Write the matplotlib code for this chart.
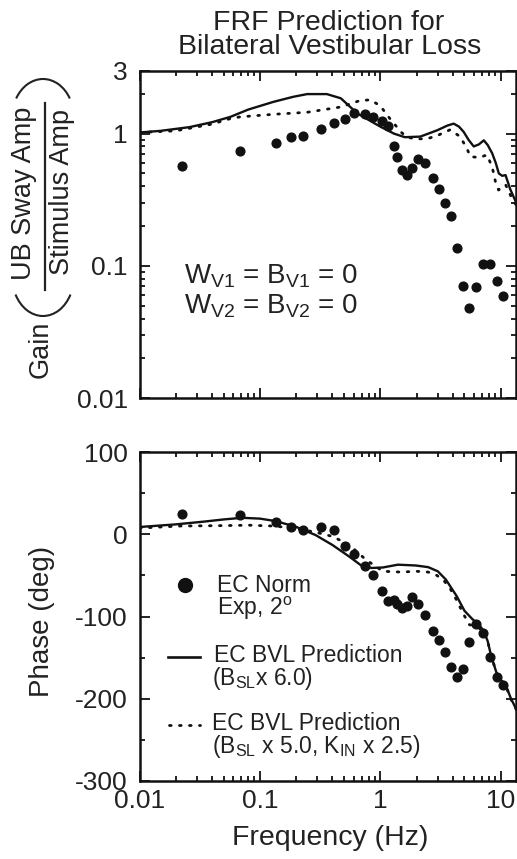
import matplotlib
matplotlib.use('Agg')
import matplotlib.pyplot as plt
from matplotlib.ticker import FixedLocator, LogLocator, NullFormatter, FixedFormatter, MultipleLocator
from matplotlib.lines import Line2D
from matplotlib.patches import Arc
import matplotlib.transforms as mtransforms

plt.rcParams['font.family'] = ['Liberation Sans', 'DejaVu Sans']
plt.rcParams['mathtext.fontset'] = 'custom'
plt.rcParams['mathtext.rm'] = 'Liberation Sans'
plt.rcParams['mathtext.it'] = 'Liberation Sans:italic'
plt.rcParams['mathtext.bf'] = 'Liberation Sans:bold'

# ---------------- data ----------------
# experimental (EC Norm, Exp 2 deg)
freq_exp = [0.0225, 0.069, 0.137, 0.183, 0.229, 0.321, 0.413, 0.51, 0.605, 0.74,
            0.872, 1.025, 1.165, 1.30, 1.385, 1.515, 1.655, 1.85, 2.075, 2.37,
            2.73, 3.06, 3.46, 3.855, 4.31, 4.83, 5.48, 6.27, 7.12, 8.1, 9.25, 10.45]
gain_exp = [0.57, 0.735, 0.85, 0.95, 0.955, 1.08, 1.21, 1.30, 1.44, 1.40,
            1.34, 1.25, 1.14, 0.80, 0.67, 0.53, 0.49, 0.55, 0.64, 0.60,
            0.46, 0.38, 0.30, 0.24, 0.136, 0.071, 0.048, 0.069, 0.103, 0.103, 0.077, 0.059]
phase_exp = [25, 23.7, 14.8, 8.7, 4.7, 8.3, 5.5, -14, -23.7, -39,
             -49.7, -68.8, -81.7, -79.7, -85, -89.9, -87.8, -75.7, -85, -98,
             -118, -128.4, -142.6, -160.8, -173.8, -164, -130.4, -109, -120, -149.5, -173.8, -183]

# EC BVL prediction (B_SL x 6.0) - solid
freq_gs = [0.01, 0.015, 0.026, 0.04, 0.057, 0.08, 0.13, 0.19, 0.247, 0.36, 0.47, 0.645,
           1.0, 1.3, 1.6, 2.15, 2.97, 3.6, 4.07, 4.5, 4.93, 5.4, 5.97, 6.6, 7.24, 7.8,
           8.5, 9.1, 9.65, 10.3, 10.97, 12.0, 13.7]
gain_s = [1.02, 1.05, 1.12, 1.22, 1.34, 1.52, 1.74, 1.9, 1.99, 1.99, 1.85, 1.42,
          1.13, 1.0, 0.94, 0.95, 1.06, 1.15, 1.19, 1.13, 1.03, 0.9, 0.8, 0.83, 0.89, 0.82,
          0.71, 0.6, 0.5, 0.48, 0.486, 0.38, 0.29]
freq_ps = [0.01, 0.02, 0.035, 0.05, 0.071, 0.1, 0.135, 0.2, 0.29, 0.4, 0.55, 0.71,
           0.85, 1.05, 1.4, 1.98, 2.5, 3.0, 3.5, 4.3, 5.0, 5.8, 6.5, 7.2, 7.8, 8.3,
           9.3, 10.0, 11.0, 12.1, 13.7]
phase_s = [8.8, 12, 15.5, 18, 20, 19, 16, 9, -1, -13, -27, -39,
           -41, -40.4, -37, -38, -40, -45, -55, -75, -93, -103, -109, -117, -130, -147,
           -170, -177, -183, -199, -215]

# EC BVL prediction (B_SL x 5.0, K_IN x 2.5) - dotted
freq_gd = [0.01, 0.02, 0.04, 0.057, 0.069, 0.13, 0.247, 0.47, 0.68, 0.83, 1.0, 1.2,
           1.5, 1.67, 2.0, 2.5, 3.0, 3.8, 4.6, 5.25, 5.6, 6.6, 7.7, 8.5, 9.06, 9.6,
           11.0, 12.1, 13.7]
gain_d = [1.02, 1.05, 1.18, 1.3, 1.34, 1.4, 1.45, 1.59, 1.78, 1.8, 1.62, 1.3,
          1.02, 0.94, 0.91, 0.92, 0.97, 1.07, 0.95, 0.77, 0.67, 0.66, 0.69, 0.56, 0.43, 0.375,
          0.41, 0.34, 0.28]
freq_pd = [0.01, 0.022, 0.05, 0.081, 0.13, 0.186, 0.28, 0.4, 0.55, 0.76, 1.05, 1.5,
           1.98, 2.5, 2.95, 3.4, 3.8, 4.3, 4.9, 5.5, 6.3, 7.2, 7.8, 8.3, 9.3, 10.0,
           11.0, 12.1, 13.7]
phase_d = [7.5, 10, 10.5, 11, 10, 7.5, 3, -2.6, -12.8, -31, -45, -46,
           -45, -46, -50, -57, -66, -80, -97, -110, -112, -118, -130, -147, -170, -177,
           -184, -200, -215]

xticks = [0.01, 0.1, 1, 10]
xticklabels = ['0.01', '0.1', '1', '10']
gain_ticks = [0.01, 0.1, 1, 3]
gain_ticklabels = ['0.01', '0.1', '1', '3']
phase_ticks = [-300, -200, -100, 0, 100]
phase_ticklabels = ['-300', '-200', '-100', '0', '100']

# ---------------- figure ----------------
W, H = 517, 859
fig = plt.figure(figsize=(W / 100, H / 100), dpi=100)


def fx(x):
    return x / W


def fy(y):
    return 1 - y / H


L, R = 139.5, 516.0
ax1 = fig.add_axes([fx(L), fy(398.3), (R - L) / W, (398.3 - 70.5) / H])
ax2 = fig.add_axes([fx(L), fy(781), (R - L) / W, (781 - 452) / H])

INK = '#111111'
TXT = '#222222'
TICK_FS = 19
for ax in (ax1, ax2):
    ax.set_xscale('log')
    ax.set_xlim(0.01, 13.4)
    ax.xaxis.set_major_locator(FixedLocator(xticks))
    ax.xaxis.set_minor_locator(LogLocator(base=10, subs=range(2, 10), numticks=20))
    ax.xaxis.set_minor_formatter(NullFormatter())
    ax.tick_params(which='both', direction='in', top=True, right=True, width=1.3,
                   labelsize=TICK_FS, color=INK, labelcolor=TXT)
    ax.tick_params(which='major', length=7)
    ax.tick_params(which='minor', length=3.5)
    ax.tick_params(axis='x', pad=6)
    ax.tick_params(axis='y', pad=8.5)
    for s in ax.spines.values():
        s.set_linewidth(1.8)
        s.set_color(INK)

# gain panel
ax1.set_yscale('log')
ax1.set_ylim(0.01, 3)
ax1.yaxis.set_major_locator(FixedLocator(gain_ticks))
ax1.yaxis.set_major_formatter(FixedFormatter(gain_ticklabels))
ax1.yaxis.set_minor_locator(LogLocator(base=10, subs=range(2, 10), numticks=20))
ax1.yaxis.set_minor_formatter(NullFormatter())
ax1.xaxis.set_major_formatter(NullFormatter())
ax1.plot(freq_gs, gain_s, color=INK, lw=1.7, zorder=2)
ax1.plot(freq_gd, gain_d, color=INK, lw=2.0, ls=(0, (0.6, 3.0)),
         dash_capstyle='round', zorder=2)
ax1.plot(freq_exp, gain_exp, 'o', color=INK, ms=6.3, zorder=3)

# phase panel
ax2.set_ylim(-300, 100)
ax2.yaxis.set_major_locator(FixedLocator(phase_ticks))
ax2.yaxis.set_major_formatter(FixedFormatter(phase_ticklabels))
ax2.yaxis.set_minor_locator(MultipleLocator(50))
ax2.xaxis.set_major_formatter(FixedFormatter(xticklabels))
ax2.plot(freq_ps, phase_s, color=INK, lw=1.7, zorder=2)
ax2.plot(freq_pd, phase_d, color=INK, lw=2.0, ls=(0, (0.6, 3.0)),
         dash_capstyle='round', zorder=2)
ax2.plot(freq_exp, phase_exp, 'o', color=INK, ms=6.3, zorder=3)

# title
TITLE_FS = 20.5
fig.text(fx(329), fy(30), 'FRF Prediction for', ha='center', va='baseline',
         fontsize=TITLE_FS, color=TXT)
fig.text(fx(330), fy(53.5), 'Bilateral Vestibular Loss', ha='center', va='baseline',
         fontsize=TITLE_FS, color=TXT)

# gain y label pieces
LBL_FS = 19.5
fig.text(fx(41), fy(349), 'Gain', rotation=90, ha='center', va='center',
         fontsize=LBL_FS, color=TXT)
fig.text(fx(24), fy(193), 'UB Sway Amp', rotation=90, ha='center', va='center',
         fontsize=LBL_FS, color=TXT)
fig.text(fx(62), fy(192), 'Stimulus Amp', rotation=90, ha='center', va='center',
         fontsize=LBL_FS, color=TXT)
fig.add_artist(Line2D([fx(44.5), fx(44.5)], [fy(103), fy(290)], color=TXT, lw=1.6,
                      transform=fig.transFigure))
ident = mtransforms.IdentityTransform()
# opening parenthesis (bottom, opens upward)
fig.add_artist(Arc((43, H - 276), 62, 80, theta1=214, theta2=326, lw=1.5,
                   color=TXT, transform=ident))
# closing parenthesis (top, opens downward)
fig.add_artist(Arc((43, H - 118), 62, 78, theta1=36, theta2=144, lw=1.5,
                   color=TXT, transform=ident))

# phase y label, x label
fig.text(fx(42.5), fy(621), 'Phase (deg)', rotation=90, ha='center', va='center',
         fontsize=20, color=TXT)
fig.text(fx(330), fy(845), 'Frequency (Hz)', ha='center', va='baseline',
         fontsize=20.5, color=TXT)

# annotation in gain panel
ANN_FS = 20
fig.text(fx(184), fy(283.5), r'W$_{\mathrm{V1}}$ = B$_{\mathrm{V1}}$ = 0', ha='left',
         va='baseline', fontsize=ANN_FS, color=TXT)
fig.text(fx(184), fy(313.5), r'W$_{\mathrm{V2}}$ = B$_{\mathrm{V2}}$ = 0', ha='left',
         va='baseline', fontsize=ANN_FS, color=TXT)

# manual legend in phase panel
LEG_FS = 16.5
fig.add_artist(Line2D([fx(185)], [fy(585)], marker='o', ms=10, color=INK,
                      transform=fig.transFigure))
fig.text(fx(217), fy(591.5), 'EC Norm', ha='left', va='baseline', fontsize=LEG_FS, color=TXT)
fig.text(fx(217), fy(614.5), r'Exp, 2$^{\mathrm{o}}$', ha='left', va='baseline',
         fontsize=LEG_FS, color=TXT)
fig.add_artist(Line2D([fx(168), fx(200)], [fy(657), fy(657)], color=INK, lw=1.9,
                      transform=fig.transFigure))
fig.text(fx(214), fy(661.5), 'EC BVL Prediction', ha='left', va='baseline',
         fontsize=LEG_FS, color=TXT)
fig.text(fx(211.5), fy(684.5), r'(B$_{\mathrm{SL}}$x 6.0)', ha='left', va='baseline',
         fontsize=LEG_FS, color=TXT)
fig.add_artist(Line2D([fx(169), fx(200)], [fy(725), fy(725)], color=INK, lw=2.0,
                      ls=(0, (0.6, 3.0)), dash_capstyle='round', transform=fig.transFigure))
fig.text(fx(211.5), fy(730), 'EC BVL Prediction', ha='left', va='baseline',
         fontsize=LEG_FS, color=TXT)
fig.text(fx(211.5), fy(753), r'(B$_{\mathrm{SL}}$ x 5.0, K$_{\mathrm{IN}}$ x 2.5)', ha='left',
         va='baseline', fontsize=LEG_FS, color=TXT)

fig.savefig('out.png', dpi=100)
